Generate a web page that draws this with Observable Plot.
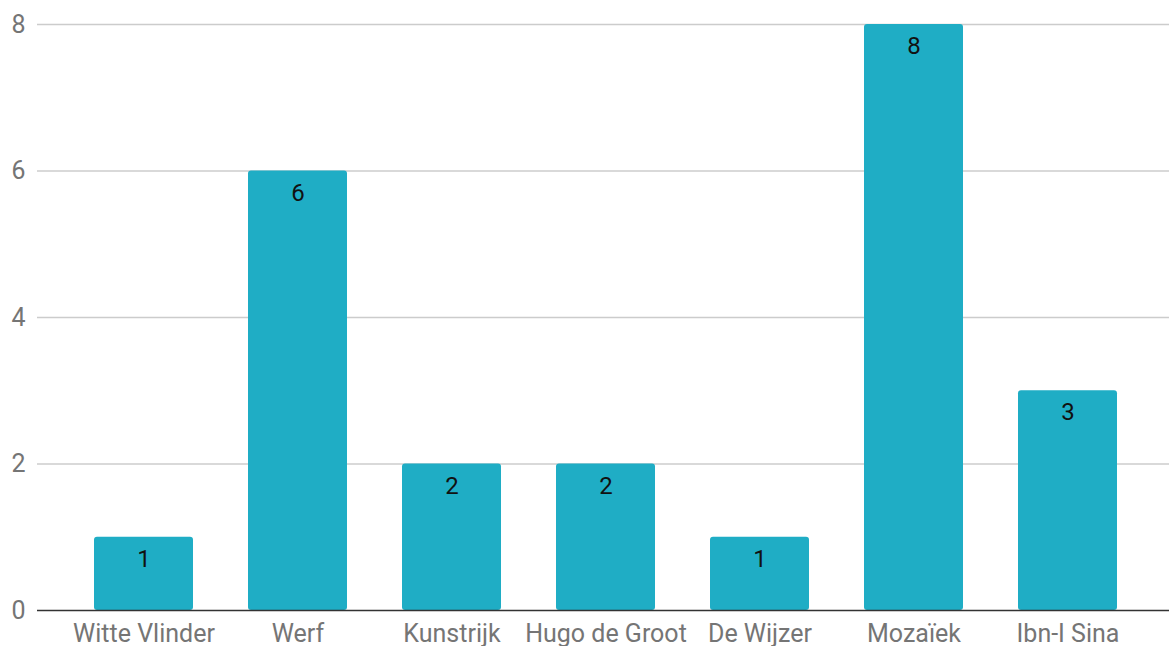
<!DOCTYPE html>
<html>
<head>
<meta charset="utf-8">
<script src="https://cdn.jsdelivr.net/npm/d3@7"></script>
<script src="https://cdn.jsdelivr.net/npm/@observablehq/plot@0.6"></script>
<style>
  html, body { margin: 0; padding: 0; background: #fff; }
  body { width: 1169px; height: 646px; overflow: hidden; font-family: Roboto, sans-serif; }
</style>
</head>
<body>
<div id="chart"></div>
<script>
const schools = ["Witte Vlinder", "Werf", "Kunstrijk", "Hugo de Groot", "De Wijzer", "Mozaïek", "Ibn-I Sina"];
const counts = [1, 6, 2, 2, 1, 8, 3];
const yTicks = [0, 2, 4, 6, 8];

const data = schools.map((s, i) => ({school: s, count: counts[i]}));

const chart = Plot.plot({
  width: 1169,
  height: 646,
  marginLeft: 37,
  marginRight: 0,
  marginTop: 24,
  marginBottom: 36,
  style: {fontFamily: "Roboto, sans-serif", background: "#fff", overflow: "visible"},
  x: {domain: schools, paddingInner: 0.358, paddingOuter: 0.347, align: 0.523, label: null},
  y: {domain: [0, 8], label: null},
  marks: [
    Plot.ruleY(yTicks.filter(d => d > 0), {stroke: "#cccccc", strokeWidth: 1.5}),
    Plot.barY(data, {x: "school", y: "count", fill: "#1fadc5", rx: 3}),
    Plot.ruleY([0], {stroke: "#333333", strokeWidth: 1.5}),
    Plot.text(data, {x: "school", y: "count", text: d => String(d.count), dy: 22, fill: "#111", fontSize: 24, lineAnchor: "middle"}),
    Plot.axisY({ticks: yTicks, tickSize: 0, tickPadding: 12, fontSize: 25, color: "#757575", label: null}),
    Plot.axisX({tickSize: 0, tickPadding: 14, fontSize: 25, color: "#757575", label: null})
  ]
});
document.getElementById("chart").appendChild(chart);
</script>
</body>
</html>
